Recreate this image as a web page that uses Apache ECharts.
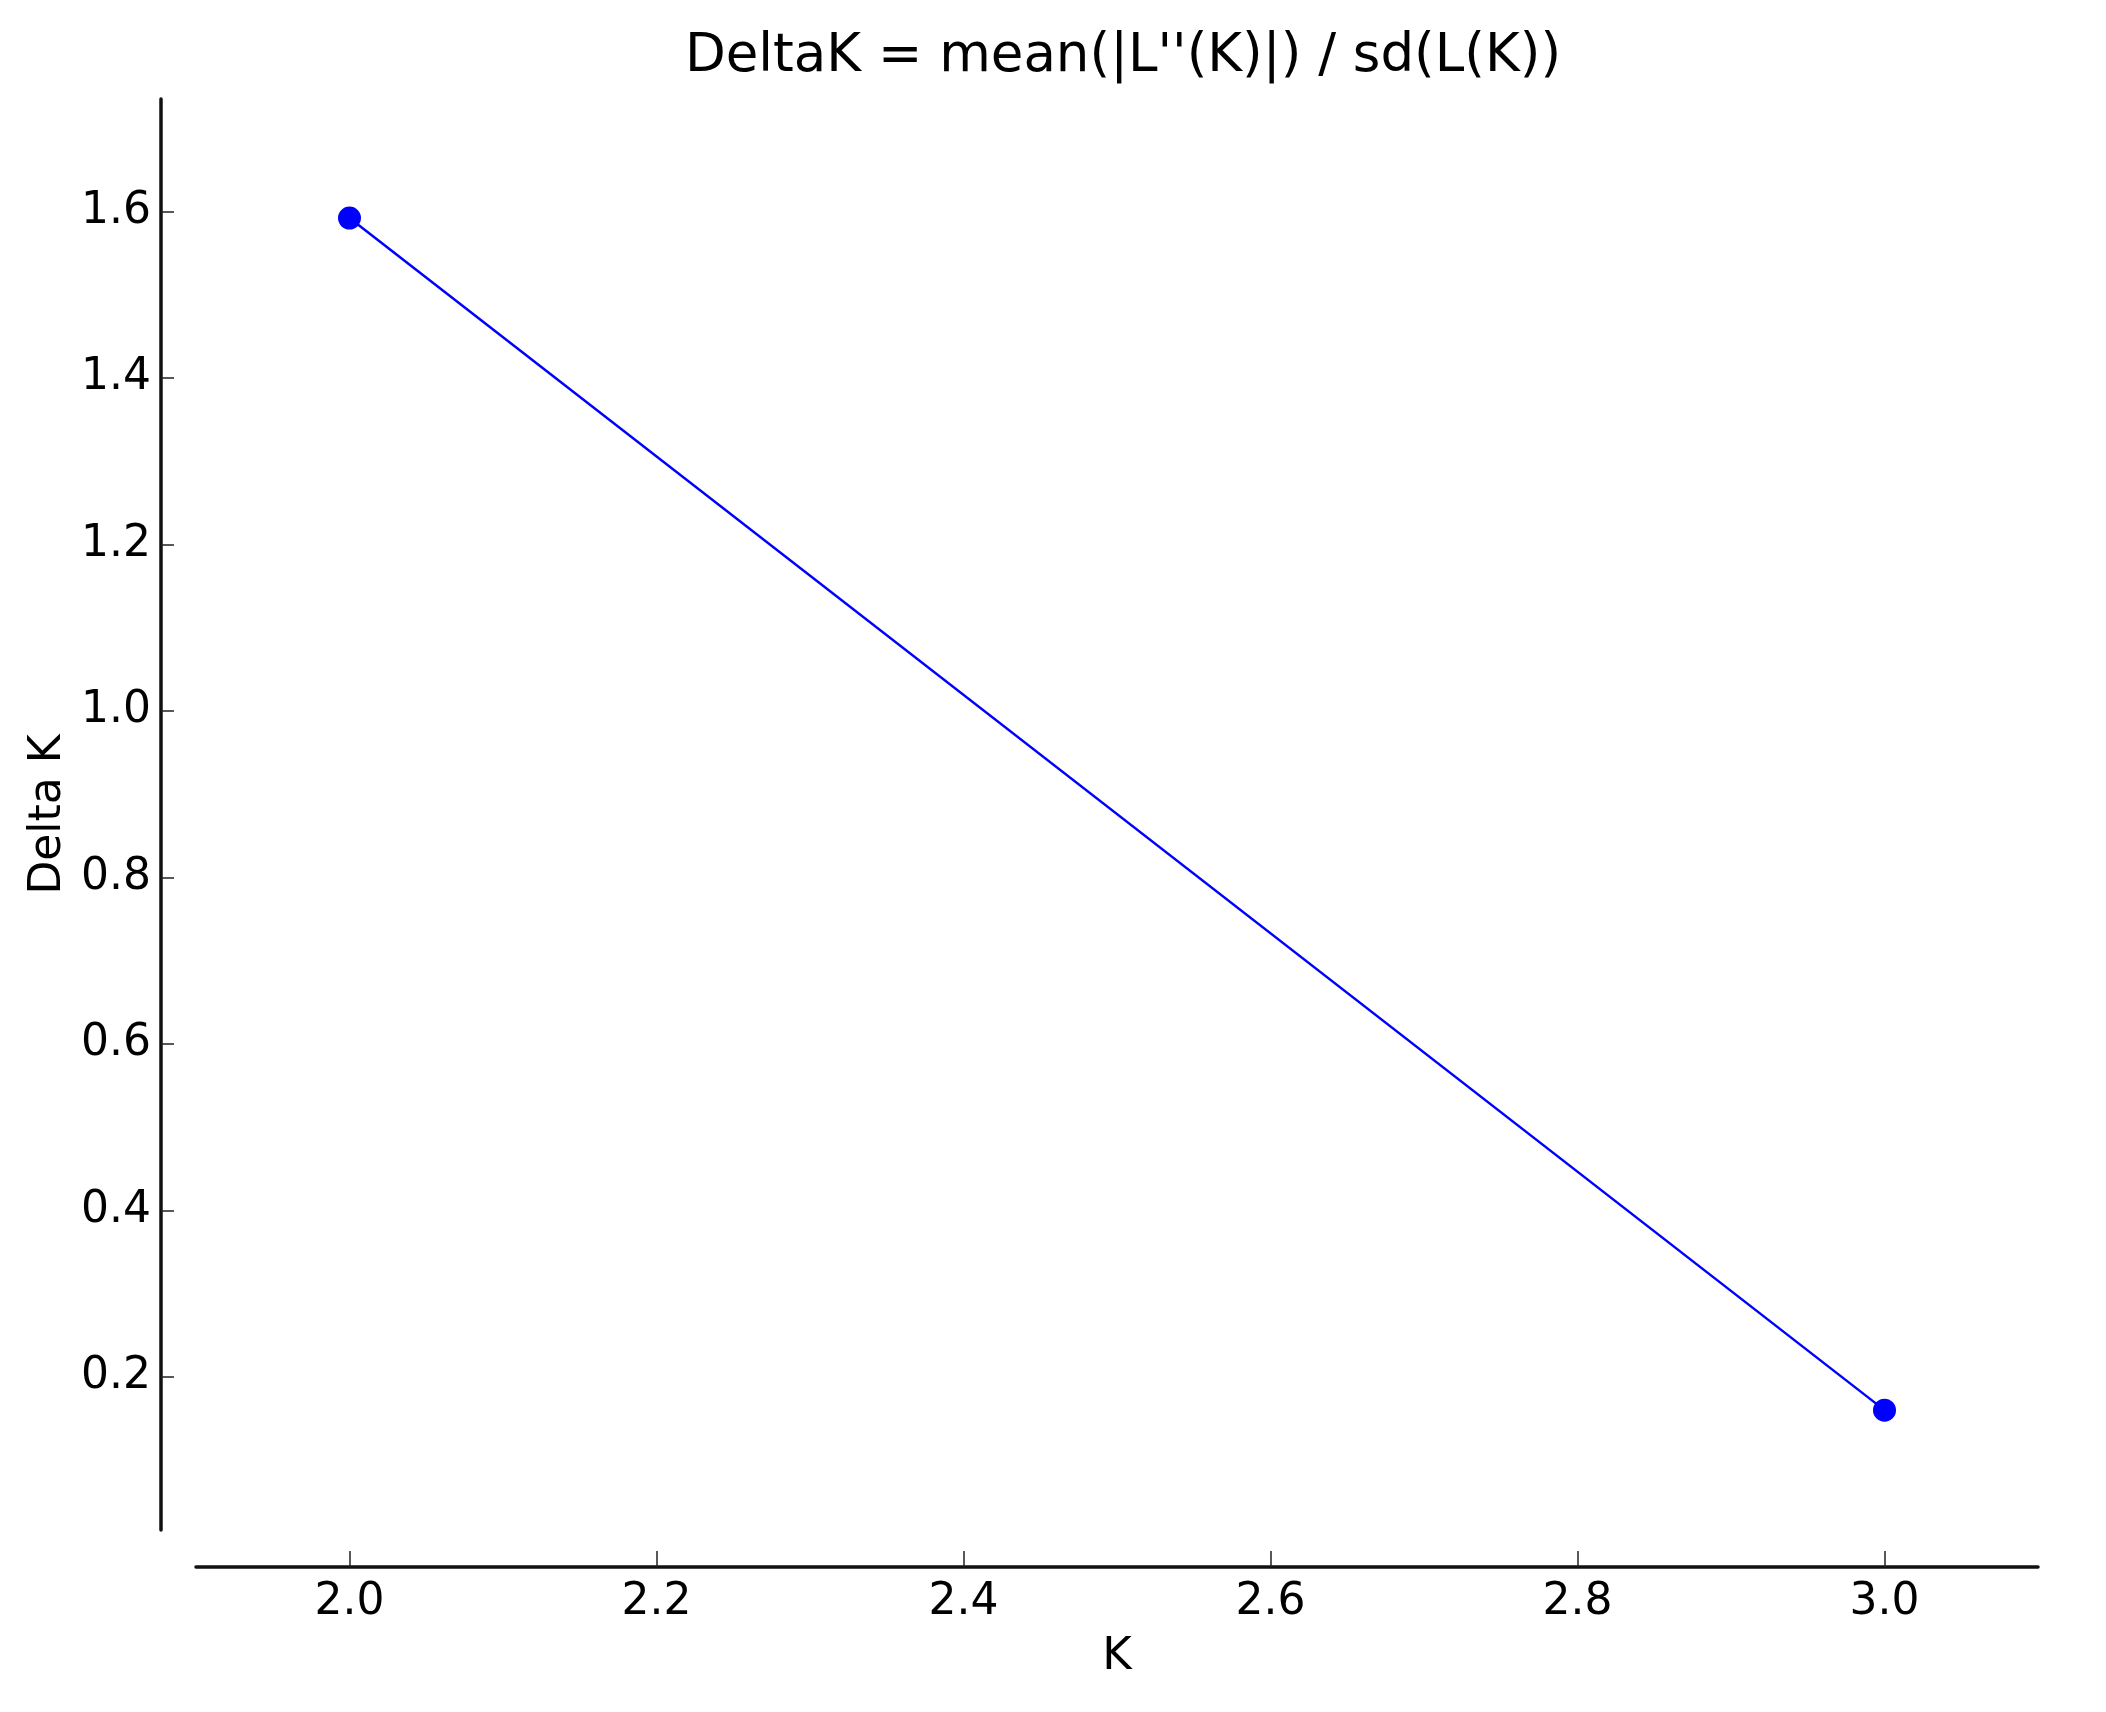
<!DOCTYPE html>
<html>
<head>
<meta charset="utf-8">
<script src="https://cdn.jsdelivr.net/npm/echarts@6/dist/echarts.min.js"></script>
<style>
  html, body { margin: 0; padding: 0; background: #fff; }
  #chart { width: 2106px; height: 1712px; }
</style>
</head>
<body>
<div id="chart"></div>
<script>
// data
let kValues = [2, 3];
let deltaK = [1.592, 0.160];
let xTicks = [2.0, 2.2, 2.4, 2.6, 2.8, 3.0];
let yTicks = [0.2, 0.4, 0.6, 0.8, 1.0, 1.2, 1.4, 1.6];

var myChart = echarts.init(document.getElementById('chart'));

let font = 'DejaVu Sans';

let option = {
    backgroundColor: '#fff',
    animation: false,
    title: {
        text: "DeltaK = mean(|L''(K)|) / sd(L(K))",
        left: 1118,
        textAlign: 'center',
        top: 26,
        textStyle: {
            fontFamily: font,
            fontSize: 53,
            fontWeight: 'normal',
            color: '#000'
        }
    },
    grid: {
        left: 196,
        right: 68,
        top: 99,
        bottom: 182,
        containLabel: false
    },
    xAxis: {
        type: 'value',
        min: 1.9,
        max: 3.1,
        offset: 37,
        name: 'K',
        nameLocation: 'middle',
        nameGap: 68,
        nameTextStyle: { fontFamily: font, fontSize: 45, color: '#000' },
        axisLine: { show: true, lineStyle: { color: '#111', width: 3.5 } },
        axisTick: {
            show: true,
            inside: true,
            length: 16,
            customValues: xTicks,
            lineStyle: { color: '#222', width: 1.5 }
        },
        axisLabel: {
            customValues: xTicks,
            margin: 14,
            fontFamily: font,
            fontSize: 44,
            color: '#000',
            formatter: function (v) { return v.toFixed(1); }
        },
        splitLine: { show: false }
    },
    yAxis: {
        type: 'value',
        min: 0.016,
        max: 1.735,
        offset: 35,
        name: 'Delta K',
        nameLocation: 'middle',
        nameGap: 90,
        nameRotate: 90,
        nameTextStyle: { fontFamily: font, fontSize: 44, color: '#000' },
        axisLine: { show: true, lineStyle: { color: '#111', width: 3.5 } },
        axisTick: {
            show: true,
            inside: true,
            length: 13,
            customValues: yTicks,
            lineStyle: { color: '#222', width: 1.5 }
        },
        axisLabel: {
            customValues: yTicks,
            margin: 10,
            fontFamily: font,
            fontSize: 44,
            color: '#000',
            formatter: function (v) { return v.toFixed(1); }
        },
        splitLine: { show: false }
    },
    series: [{
        name: 'Delta K',
        type: 'line',
        data: kValues.map((k, i) => [k, deltaK[i]]),
        symbol: 'circle',
        symbolSize: 23,
        itemStyle: { color: '#0000ff' },
        lineStyle: { color: '#0000ff', width: 2.5 }
    }]
};

myChart.setOption(option);
</script>
</body>
</html>
